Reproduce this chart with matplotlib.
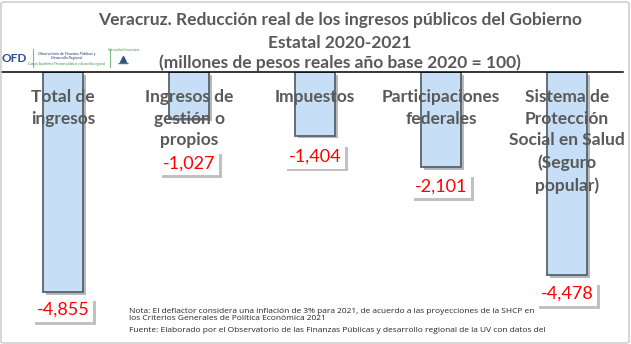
import matplotlib
matplotlib.use("Agg")
import matplotlib.pyplot as plt
import matplotlib.patheffects as pe
from matplotlib.patches import FancyBboxPatch

categories = ["Total de\ningresos", "Ingresos de\ngestión o\npropios", "Impuestos",
              "Participaciones\nfederales",
              "Sistema de\nProtección\nSocial en Salud\n(Seguro\npopular)"]
values = [-4855, -1027, -1404, -2101, -4478]
value_labels = ["-4,855", "-1,027", "-1,404", "-2,101", "-4,478"]
label_offsets_px = [18, 45, 21, 19, 19]  # style: gap below bar end

title_lines = ["Veracruz. Reducción real de los ingresos públicos del Gobierno",
               "Estatal 2020-2021",
               "(millones de pesos reales año base 2020 = 100)"]
note = ("Nota: El deflactor considera una inflación de 3% para 2021, de acuerdo a las proyecciones de la SHCP en\n"
        "los Criterios Generales de Política Económica 2021")
source = "Fuente: Elaborado por el Observatorio de las Finanzas Públicas y desarrollo regional de la UV con datos del"

W, H = 631, 344
fig = plt.figure(figsize=(W / 100, H / 100), dpi=100)
FONT = ["Lato", "DejaVu Sans"]
GRAY = "#595959"

zero_px = 72
ax = fig.add_axes([0, 0, 1, (H - zero_px) / H])
px_per_unit = 0.0453
ax.set_ylim(-(H - zero_px) / px_per_unit, 0)
ax.set_xlim(-63 / 126, (W - 63) / 126)
ax.axis("off")

x = list(range(len(values)))
bars = ax.bar(x, values, width=0.315, color="#C6DFF6", edgecolor="#56636E",
              linewidth=1.3, zorder=2)
for b in bars:
    b.set_path_effects([pe.SimplePatchShadow(offset=(2, -2), shadow_rgbFace="#8a8a8a", alpha=0.6),
                        pe.Normal()])

ax.plot([-63 / 126, (623 - 63) / 126], [0, 0], color="black", lw=1.1, zorder=3, clip_on=False)

for xi, cat in zip(x, categories):
    ax.annotate(cat, xy=(xi, 0), xytext=(0, -12), textcoords="offset points",
                ha="center", va="top", fontsize=12.5, fontweight="bold",
                color=GRAY, family=FONT, linespacing=1.45, zorder=4)

for xi, v, lab, off in zip(x, values, value_labels, label_offsets_px):
    t = ax.annotate(lab, xy=(xi, v), xytext=(0, -off * 72 / 100), textcoords="offset points",
                    ha="center", va="center", fontsize=13, color="#FF0000", family=FONT,
                    zorder=5,
                    bbox=dict(boxstyle="square,pad=0.22", fc="white", ec="none"))
    t.get_bbox_patch().set_path_effects([pe.SimplePatchShadow(offset=(2, -2), shadow_rgbFace="#777777", alpha=0.45),
                                         pe.Normal()])

for line, base in zip(title_lines, (25, 48, 68)):
    fig.text(340 / W, 1 - base / H, line, ha="center", va="baseline", fontsize=12.5,
             fontweight="bold", color=GRAY, family=FONT)

# logo
fig.text(2 / W, 1 - 58 / H, "OFD", ha="left", va="center", fontsize=8.5,
         fontweight="bold", color="#2F4F8F", family=FONT)
fig.text(67 / W, 1 - 56 / H, "Observatorio de Finanzas Públicas y\nDesarrollo Regional",
         ha="center", va="center", fontsize=2.8, color="#1F3A7A", family=FONT, fontstyle="italic")
fig.text(67 / W, 1 - 64 / H, "Cuerpo Académico Finanzas públicas y desarrollo regional",
         ha="center", va="center", fontsize=2.2, color="#3A8A3A", family=FONT)
for xp in (33, 110):
    fig.add_artist(plt.Line2D([xp / W, xp / W], [1 - 67 / H, 1 - 49 / H], color="#7FBF7F", lw=0.8))
fig.text(123 / W, 1 - 50 / H, "Universidad Veracruzana", ha="center", va="center",
         fontsize=2.0, color="#3A8A3A", family=FONT)
fig.add_artist(plt.Line2D([123 / W], [1 - 59 / H], marker="^", ms=4, color="#2F4F8F", lw=0))
fig.add_artist(plt.Line2D([123 / W], [1 - 63 / H], marker="_", ms=7, mew=1, color="#3A8A3A", lw=0))

fig.text(129 / W, 1 - 315 / H, note, ha="left", va="center", fontsize=6.0,
         color="#262626", family=["Open Sans", "DejaVu Sans"], linespacing=1.0)
fig.text(129 / W, 1 - 331 / H, source, ha="left", va="center", fontsize=6.0,
         color="#262626", family=["Open Sans", "DejaVu Sans"])

fig.add_artist(FancyBboxPatch((1 / W, 1 / H), (W - 3) / W, (H - 3) / H,
                              boxstyle="round,pad=0,rounding_size=0.005",
                              transform=fig.transFigure, fill=False,
                              ec="#D0D0D0", lw=1.2))

fig.savefig("out.png", dpi=100, facecolor="white")
